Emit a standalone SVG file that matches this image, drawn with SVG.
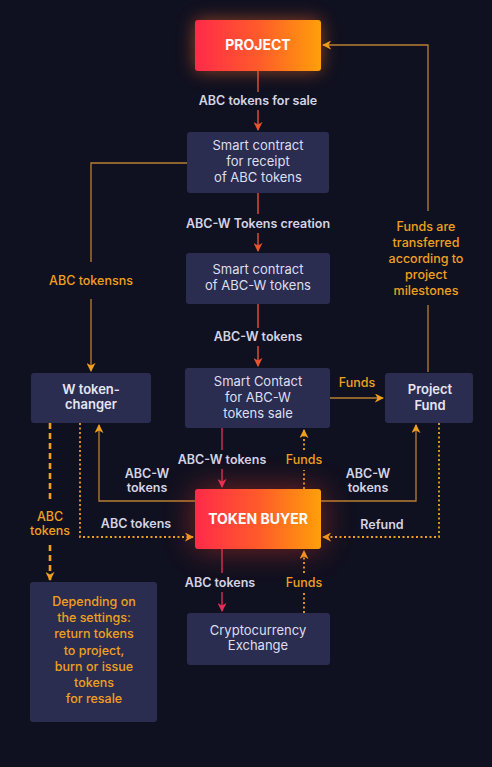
<svg xmlns="http://www.w3.org/2000/svg" width="492" height="767" viewBox="0 0 492 767">
<defs>
<linearGradient id="hot" x1="0" y1="0" x2="1" y2="0">
<stop offset="0" stop-color="#ff2a4a"/>
<stop offset="0.5" stop-color="#ff5a2a"/>
<stop offset="1" stop-color="#ff9f0a"/>
</linearGradient>
<filter id="glow" x="-50%" y="-80%" width="200%" height="260%">
<feGaussianBlur stdDeviation="9"/>
</filter>
<filter id="glow2" x="-70%" y="-120%" width="240%" height="340%">
<feGaussianBlur stdDeviation="16"/>
</filter>
<marker id="aRed" viewBox="0 0 10 10" refX="9" refY="5" markerWidth="9" markerHeight="9" markerUnits="userSpaceOnUse" orient="auto">
<path d="M0,0 L10,5 L0,10 L3,5 z" fill="#e8542e"/>
</marker>
<marker id="aPink" viewBox="0 0 10 10" refX="9" refY="5" markerWidth="9" markerHeight="9" markerUnits="userSpaceOnUse" orient="auto">
<path d="M0,0 L10,5 L0,10 L3,5 z" fill="#e0305a"/>
</marker>
<marker id="aOr" viewBox="0 0 10 10" refX="9" refY="5" markerWidth="9" markerHeight="9" markerUnits="userSpaceOnUse" orient="auto">
<path d="M0,0 L10,5 L0,10 L3,5 z" fill="#f0a020"/>
</marker>
</defs>
<style>
.box{fill:#2a2c50;}
.bt{font-family:Inter,"Liberation Sans",sans-serif;font-size:13px;fill:#dedff0;text-anchor:middle;}
.bb{font-family:Inter,"Liberation Sans",sans-serif;font-size:13px;font-weight:600;fill:#e6e6f4;text-anchor:middle;}
.hot{font-family:Inter,"Liberation Sans",sans-serif;font-size:14px;font-weight:700;fill:#ffffff;text-anchor:middle;}
.lb{font-family:Inter,"Liberation Sans",sans-serif;font-size:12.5px;font-weight:600;fill:#d4d4e4;text-anchor:middle;}
.lo{font-family:Inter,"Liberation Sans",sans-serif;font-size:12.5px;font-weight:500;fill:#f0a020;text-anchor:middle;}
.red{fill:none;stroke:#e8542e;stroke-width:1.4;}
.pink{fill:none;stroke:#d92e5a;stroke-width:1.4;}
.or{fill:none;stroke:#b98030;stroke-width:1.3;}
.dot{fill:none;stroke:#f0a020;stroke-width:1.8;stroke-dasharray:2 2.5;}
.dash{fill:none;stroke:#f0a020;stroke-width:2.6;stroke-dasharray:6 4;}
</style>
<rect width="492" height="767" fill="#0f1020"/>

<g id="connectors">
<path class="red" d="M258,71 V92"/>
<path class="red" d="M258,110 V130" marker-end="url(#aRed)"/>
<text class="lb" x="258" y="105">ABC tokens for sale</text>
<path class="red" d="M258,193 V214"/>
<path class="red" d="M258,233 V251" marker-end="url(#aRed)"/>
<text class="lb" x="258" y="228">ABC-W Tokens creation</text>
<path class="red" d="M258,304 V328"/>
<path class="red" d="M258,346 V366" marker-end="url(#aRed)"/>
<text class="lb" x="258" y="341">ABC-W tokens</text>
<path class="or" d="M187,163 H91 V262"/>
<path class="or" d="M91,299 V371" marker-end="url(#aOr)"/>
<text class="lo" x="91" y="285">ABC tokensns</text>
<path class="or" d="M428,372 V305"/>
<path class="or" d="M428,211 V45 H323" marker-end="url(#aOr)"/>
<text class="lo" x="426" y="231">Funds are</text>
<text class="lo" x="426" y="247">transferred</text>
<text class="lo" x="426" y="263">according to</text>
<text class="lo" x="426" y="279">project</text>
<text class="lo" x="426" y="295">milestones</text>
<path class="or" d="M330,398 H383" marker-end="url(#aOr)"/>
<text class="lo" x="357" y="387">Funds</text>
<path class="pink" d="M222,428 V450"/>
<path class="pink" d="M222,469 V487" marker-end="url(#aPink)"/>
<text class="lb" x="222" y="464">ABC-W tokens</text>
<path class="dot" d="M304,489 V470"/>
<path class="dot" d="M304,450 V430" marker-end="url(#aOr)"/>
<text class="lo" x="304" y="464">Funds</text>
<path class="or" d="M195,501 H99 V425" marker-end="url(#aOr)"/>
<text class="lb" x="147" y="478">ABC-W</text>
<text class="lb" x="147" y="492">tokens</text>
<path class="or" d="M321,501 H416 V425" marker-end="url(#aOr)"/>
<text class="lb" x="368" y="478">ABC-W</text>
<text class="lb" x="368" y="492">tokens</text>
<path class="dot" d="M80,423 V537 H193" marker-end="url(#aOr)"/>
<text class="lb" x="136" y="528">ABC tokens</text>
<path class="dot" d="M439,423 V537 H323" marker-end="url(#aOr)"/>
<text class="lb" x="382" y="529">Refund</text>
<path class="dash" d="M50,423 V503"/>
<path class="dash" d="M50,545 V580" marker-end="url(#aOr)"/>
<text class="lo" x="50" y="521">ABC</text>
<text class="lo" x="50" y="535">tokens</text>
<path class="pink" d="M222,549 V573"/>
<path class="pink" d="M222,592 V611" marker-end="url(#aPink)"/>
<text class="lb" x="220" y="587">ABC tokens</text>
<path class="dot" d="M304,613 V593"/>
<path class="dot" d="M304,573 V551" marker-end="url(#aOr)"/>
<text class="lo" x="304" y="587">Funds</text>
</g>

<g id="project">
<rect x="195" y="20" width="126" height="51" rx="3" fill="#ff6a20" opacity="0.55" filter="url(#glow)"/>
<rect x="195" y="20" width="126" height="51" rx="3" fill="url(#hot)"/>
<text class="hot" x="258" y="50">PROJECT</text>
</g>

<g id="sc-receipt">
<rect class="box" x="187" y="132" width="142" height="61" rx="3"/>
<text class="bt" x="258" y="150">Smart contract</text>
<text class="bt" x="258" y="166">for receipt</text>
<text class="bt" x="258" y="182">of ABC tokens</text>
</g>

<g id="sc-abcw">
<rect class="box" x="186" y="253" width="144" height="51" rx="3"/>
<text class="bt" x="258" y="274">Smart contract</text>
<text class="bt" x="258" y="290">of ABC-W tokens</text>
</g>

<g id="sc-sale">
<rect class="box" x="185" y="368" width="145" height="60" rx="3"/>
<text class="bt" x="258" y="386">Smart Contact</text>
<text class="bt" x="258" y="402">for ABC-W</text>
<text class="bt" x="258" y="418">tokens sale</text>
</g>

<g id="w-changer">
<rect class="box" x="31" y="373" width="120" height="50" rx="3"/>
<text class="bb" x="91" y="394">W token-</text>
<text class="bb" x="91" y="409">changer</text>
</g>

<g id="project-fund">
<rect class="box" x="385" y="373" width="88" height="50" rx="3"/>
<text class="bb" x="430" y="394">Project</text>
<text class="bb" x="430" y="410">Fund</text>
</g>

<g id="token-buyer">
<rect x="195" y="489" width="126" height="60" rx="3" fill="#ff3a20" opacity="0.45" filter="url(#glow2)"/>
<rect x="195" y="489" width="126" height="60" rx="3" fill="url(#hot)"/>
<text class="hot" x="258" y="524">TOKEN BUYER</text>
</g>

<g id="note">
<rect class="box" x="30" y="582" width="127" height="140" rx="3"/>
<text class="lo" x="94" y="606">Depending on</text>
<text class="lo" x="94" y="622">the settings:</text>
<text class="lo" x="94" y="638">return tokens</text>
<text class="lo" x="94" y="655">to project,</text>
<text class="lo" x="94" y="671">burn or issue</text>
<text class="lo" x="94" y="687">tokens</text>
<text class="lo" x="94" y="703">for resale</text>
</g>

<g id="exchange">
<rect class="box" x="187" y="613" width="143" height="52" rx="3"/>
<text class="bt" x="258" y="635">Cryptocurrency</text>
<text class="bt" x="258" y="650">Exchange</text>
</g>
</svg>
